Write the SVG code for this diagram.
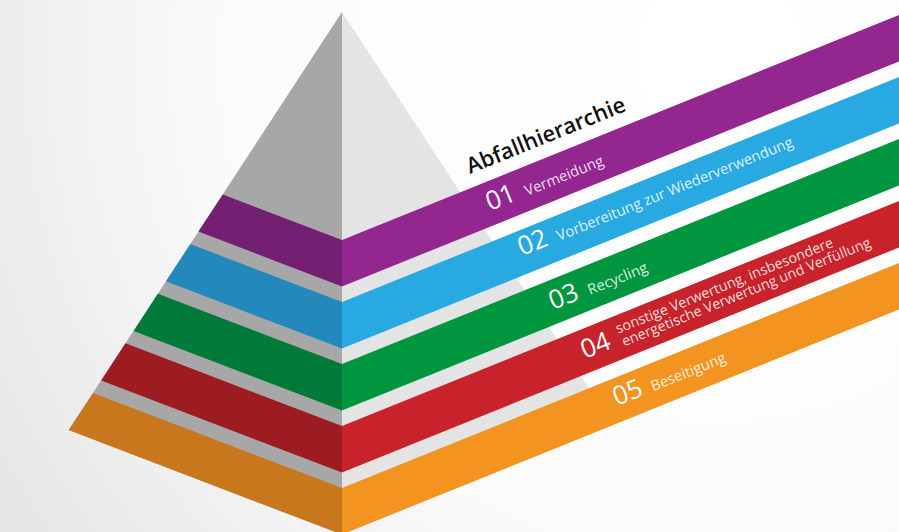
<svg xmlns="http://www.w3.org/2000/svg" width="899" height="532" viewBox="0 0 899 532">
<defs>
<radialGradient id="bg" cx="720" cy="60" r="900" gradientUnits="userSpaceOnUse">
<stop offset="0" stop-color="#ffffff"/>
<stop offset="0.55" stop-color="#fbfbfb"/>
<stop offset="1" stop-color="#e2e2e2"/>
</radialGradient>
<style>
.num{font-family:"Open Sans","Liberation Sans",sans-serif;font-size:26px;font-weight:500;fill:#ffffff}
.lbl{font-family:"Open Sans","Liberation Sans",sans-serif;font-size:14.7px;fill:#ffffff;fill-opacity:0.85}
.lbl2{font-family:"Open Sans","Liberation Sans",sans-serif;font-size:14.2px;fill:#ffffff;fill-opacity:0.85}
.title{font-family:"Open Sans","Liberation Sans",sans-serif;font-size:22px;font-weight:600;fill:#111111}
</style>
</defs>
<rect width="899" height="532" fill="url(#bg)"/>
<g id="pyramid">
<polygon points="342,12 68.7,430.1 342,534.5" fill="#a7a7a7"/>
<polygon points="342,12 613,425 342,534.5" fill="#e4e4e4"/>
</g>
<g id="title">
<text class="title" transform="translate(470,174) rotate(-22)">Abfallhierarchie</text>
</g>
<g id="level-01">
<polygon points="342,240 222.8,194.5 198.4,231.6 342,286.5" fill="#751f72"/>
<polygon points="342,240 899,15 899,61.5 342,286.5" fill="#93278f"/>
<g transform="translate(490,211) rotate(-22)">
<text class="num" x="0" y="0">01</text>
<text class="lbl" x="40" y="0">Vermeidung</text>
</g>
</g>
<g id="level-02">
<polygon points="342,302 190.3,244.1 166,281.3 342,348.5" fill="#2389bd"/>
<polygon points="342,302 899,77 899,123.5 342,348.5" fill="#29a9e1"/>
<g transform="translate(522,256) rotate(-22)">
<text class="num" x="0" y="0">02</text>
<text class="lbl" x="40" y="0">Vorbereitung zur Wiederverwendung</text>
</g>
</g>
<g id="level-03">
<polygon points="342,364 157.9,293.7 133.6,330.9 342,410.5" fill="#007a38"/>
<polygon points="342,364 899,139 899,185.5 342,410.5" fill="#009640"/>
<g transform="translate(553,310) rotate(-22)">
<text class="num" x="0" y="0">03</text>
<text class="lbl" x="40" y="0">Recycling</text>
</g>
</g>
<g id="level-04">
<polygon points="342,426 125.5,343.3 101.2,380.5 342,472.5" fill="#9d1c22"/>
<polygon points="342,426 899,201 899,247.5 342,472.5" fill="#c8222b"/>
<g transform="translate(585,359) rotate(-22)">
<text class="num" x="0" y="0">04</text>
<text class="lbl2" x="40" y="-11">sonstige Verwertung, insbesondere</text>
<text class="lbl2" x="41" y="3">energetische Verwertung und Verfüllung</text>
</g>
</g>
<g id="level-05">
<polygon points="342,488 93.1,392.9 68.7,430.1 342,534.5" fill="#c9771c"/>
<polygon points="342,488 899,263 899,309.5 342,534.5" fill="#f39320"/>
<g transform="translate(617,406) rotate(-22)">
<text class="num" x="0" y="0">05</text>
<text class="lbl" x="39" y="0">Beseitigung</text>
</g>
</g>
</svg>
